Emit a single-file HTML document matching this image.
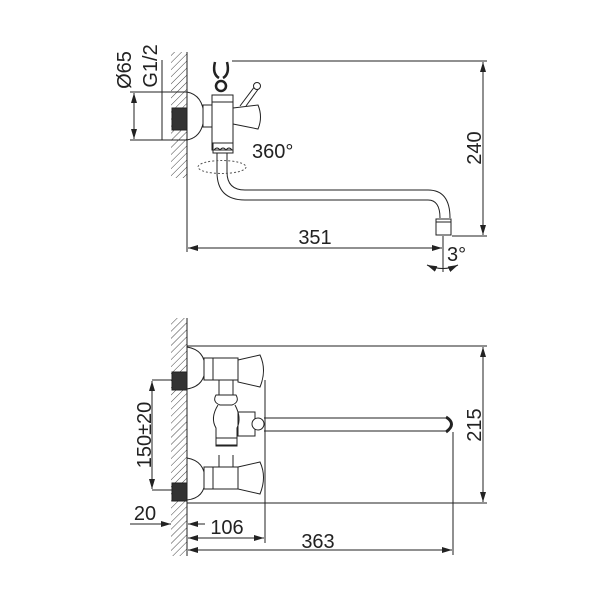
<!DOCTYPE html>
<html><head><meta charset="utf-8"><style>body{margin:0;background:#fff}svg{display:block}text{font-family:"Liberation Sans",sans-serif;fill:#222}</style></head><body>
<svg width="600" height="600" viewBox="0 0 600 600" xmlns="http://www.w3.org/2000/svg">
<defs>
<pattern id="h" width="5" height="5" patternUnits="userSpaceOnUse" patternTransform="rotate(45)"><line x1="0" y1="0" x2="0" y2="5" stroke="#444" stroke-width="1"/></pattern>
<marker id="a" viewBox="0 0 10 6" refX="10" refY="3" markerWidth="10" markerHeight="6" orient="auto-start-reverse" markerUnits="userSpaceOnUse"><path d="M0,0L10,3L0,6z" fill="#222"/></marker>
</defs>
<g stroke="#222" stroke-width="1" fill="none">
<!-- TOP VIEW -->
<rect x="171" y="52" width="16" height="126" fill="url(#h)" stroke="none"/>
<line x1="187" y1="52" x2="187" y2="252"/>
<rect x="172" y="108" width="15" height="22" fill="#333"/>
<path d="M187,92 Q203,95 204,116 Q203,137 187,140"/>
<rect x="203" y="105" width="9" height="22" fill="#fff"/>
<path d="M212,95 H233 V150 H212 Z" fill="#fff"/>
<line x1="212" y1="102" x2="233" y2="102"/>
<path d="M233,108 L258,105 Q263,117 258,129 L233,124"/>
<path d="M240,106 L255,86 M246,106 L259,88"/><circle cx="257" cy="86" r="3.5" fill="#fff"/>
<circle cx="221" cy="86" r="5" stroke-width="2.5"/>
<path d="M215,62 Q212,74 219,78" stroke-width="2.5"/>
<path d="M227,62 Q230,74 223,78" stroke-width="2.5"/>
<path d="M213,143 H233 V153 H213 Z"/>
<path d="M214,150 q3,-4 6,0 q3,-4 6,0 q3,-4 6,0"/>
<path d="M217,153 V172 Q217,200 245,200 H428 Q440,200 440,218"/>
<path d="M227,153 V172 Q227,190 245,190 H428 Q450,190 450,218"/>
<rect x="436" y="219" width="15" height="16" fill="#fff"/>
<line x1="436" y1="222" x2="451" y2="222"/>
<ellipse cx="222" cy="167" rx="24" ry="6.5" stroke-dasharray="2,2" stroke="#555"/>
<line x1="232" y1="61" x2="487" y2="61"/>
<line x1="452" y1="236" x2="487" y2="236"/>
<line x1="483" y1="62" x2="483" y2="235" marker-start="url(#a)" marker-end="url(#a)"/>
<line x1="188" y1="248" x2="442" y2="248" marker-start="url(#a)" marker-end="url(#a)"/>
<line x1="443" y1="236" x2="443" y2="272"/>
<path d="M427,265 Q443,272 458,265" marker-start="url(#a)" marker-end="url(#a)"/>
<line x1="130" y1="92" x2="187" y2="92"/><line x1="130" y1="140" x2="187" y2="140"/>
<line x1="134" y1="93" x2="134" y2="139" marker-start="url(#a)" marker-end="url(#a)"/>
<line x1="162" y1="60" x2="162" y2="140"/>
<!-- BOTTOM VIEW -->
<rect x="171" y="318" width="16" height="238" fill="url(#h)" stroke="none"/>
<line x1="187" y1="318" x2="187" y2="556"/>
<rect x="172" y="372" width="15" height="18" fill="#333"/>
<rect x="172" y="483" width="15" height="18" fill="#333"/>
<path d="M187,347 Q205,350 205,368 Q205,386 187,389"/>
<path d="M187,458 Q205,461 205,480 Q205,498 187,500"/>
<rect x="204" y="358" width="9" height="22" fill="#fff"/>
<rect x="204" y="467" width="9" height="22" fill="#fff"/>
<path d="M213,358 H238 V380 H213"/><path d="M213,467 H238 V489 H213"/>
<path d="M238,360 L260,355 Q267,370 260,387 L238,382 Z"/>
<path d="M238,467 L260,462 Q267,477 260,494 L238,489 Z"/>
<path d="M219,380 V395 M233,380 V395 M219,467 V455 M233,467 V455"/>
<path d="M216,395 Q212,402 220,405 L232,405 Q240,402 236,395 Z"/>
<path d="M218,405 Q210,418 216,428 L216,445 H237 V428 Q242,418 235,405"/>
<rect x="216" y="438" width="21" height="8"/>
<rect x="238" y="412" width="17" height="24"/>
<circle cx="258" cy="424" r="6" fill="#fff"/>
<path d="M264,418 H448 M264,431 H448"/>
<path d="M446,417 Q457,424 446,432" stroke-width="3"/>
<line x1="187" y1="346" x2="487" y2="346"/>
<line x1="187" y1="503" x2="487" y2="503"/>
<line x1="483" y1="347" x2="483" y2="502" marker-start="url(#a)" marker-end="url(#a)"/>
<line x1="152" y1="380" x2="172" y2="380"/><line x1="152" y1="490" x2="172" y2="490"/>
<line x1="152" y1="381" x2="152" y2="489" marker-start="url(#a)" marker-end="url(#a)"/>
<line x1="130" y1="524" x2="171" y2="524" marker-end="url(#a)"/>
<line x1="205" y1="524" x2="188" y2="524" marker-end="url(#a)"/>
<line x1="265" y1="380" x2="265" y2="543"/>
<line x1="188" y1="538" x2="264" y2="538" marker-start="url(#a)" marker-end="url(#a)"/>
<line x1="453" y1="432" x2="453" y2="555"/>
<line x1="188" y1="550" x2="452" y2="550" marker-start="url(#a)" marker-end="url(#a)"/>
</g>
<g font-size="20">
<text x="315" y="244" text-anchor="middle">351</text>
<text x="252" y="158">360°</text>
<text x="447" y="261">3°</text>
<text transform="translate(481,148) rotate(-90)" text-anchor="middle">240</text>
<text transform="translate(131,70) rotate(-90)" text-anchor="middle">Ø65</text>
<text transform="translate(157,66) rotate(-90)" text-anchor="middle">G1/2</text>
<text x="318" y="548" text-anchor="middle">363</text>
<text x="227" y="534" text-anchor="middle">106</text>
<text x="145" y="520" text-anchor="middle">20</text>
<text transform="translate(481,425) rotate(-90)" text-anchor="middle">215</text>
<text transform="translate(151,435) rotate(-90)" text-anchor="middle">150±20</text>
</g>
</svg>
</body></html>
